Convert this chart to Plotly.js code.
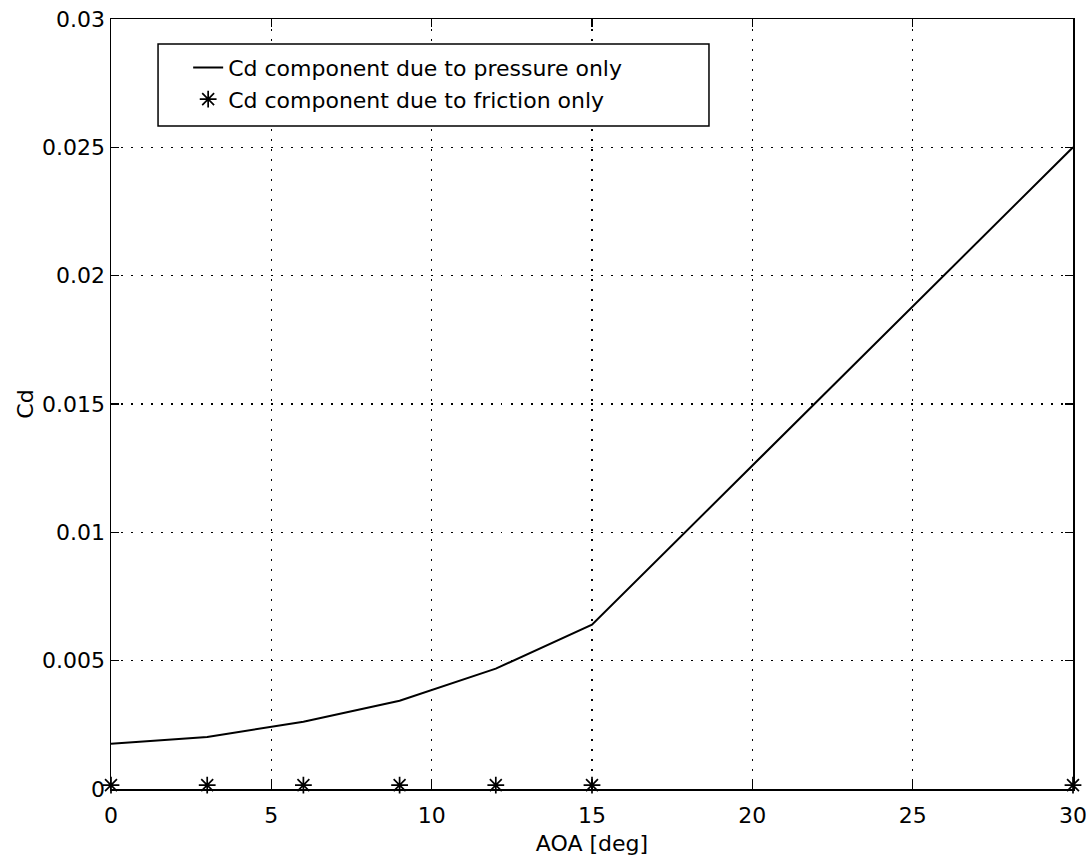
<!DOCTYPE html>
<html>
<head>
<meta charset="utf-8">
<script src="https://cdn.plot.ly/plotly-3.0.1.min.js"></script>
<style>html,body{margin:0;padding:0;background:#fff;}#chart{width:1090px;height:858px;}</style>
</head>
<body>
<div id="chart"></div>
<script>
// Data
const aoa = [0, 3, 6, 9, 12, 15, 30];
const cdPressure = [0.00176, 0.00203, 0.00262, 0.00344, 0.00469, 0.0064, 0.025];
const cdFriction = [0.00015, 0.00015, 0.00015, 0.00015, 0.00015, 0.00015, 0.00015];
const xTicks = [0, 5, 10, 15, 20, 25, 30];
const yTickVals = [0, 0.005, 0.01, 0.015, 0.02, 0.025, 0.03];
const yTickText = ['0', '0.005', '0.01', '0.015', '0.02', '0.025', '0.03'];
const seriesNames = ['Cd component due to pressure only', 'Cd component due to friction only'];

const FONT = 'DejaVu Sans, Liberation Sans, Arial, sans-serif';

const traces = [
  {
    x: aoa, y: cdPressure, type: 'scatter', mode: 'lines',
    name: seriesNames[0],
    line: {color: '#000', width: 2}
  },
  {
    x: aoa, y: cdFriction, type: 'scatter', mode: 'markers',
    name: seriesNames[1],
    marker: {symbol: 'asterisk-open', size: 14, color: '#000', line: {color: '#000', width: 1.7}},
    cliponaxis: false
  }
];

const axisCommon = {
  showline: true, linecolor: '#000', linewidth: 1.5, mirror: 'ticks',
  ticks: 'inside', ticklen: 8, tickwidth: 1.2, tickcolor: '#000',
  showgrid: true, gridcolor: '#000', gridwidth: 1.3, griddash: '1.5px,8.5px',
  zeroline: false,
  tickfont: {family: FONT, size: 22, color: '#000'}
};

const layout = {
  width: 1090, height: 858,
  margin: {l: 111, r: 17, t: 19, b: 69},
  paper_bgcolor: '#fff', plot_bgcolor: '#fff',
  font: {family: FONT, size: 22, color: '#000'},
  xaxis: Object.assign({}, axisCommon, {
    range: [0, 30], tickvals: xTicks, ticktext: xTicks.map(String),
    ticklabelstandoff: 6,
    title: {text: 'AOA [deg]', font: {family: FONT, size: 22, color: '#000'}, standoff: 8}
  }),
  yaxis: Object.assign({}, axisCommon, {
    range: [0, 0.03], tickvals: yTickVals, ticktext: yTickText,
    title: {text: 'Cd', font: {family: FONT, size: 22, color: '#000'}, standoff: 2}
  }),
  showlegend: true,
  legend: {
    x: 0.0802, y: 0.964, xanchor: 'left', yanchor: 'top',
    bgcolor: 'rgba(0,0,0,0)', borderwidth: 0,
    font: {family: FONT, size: 22, color: '#000'},
    tracegroupgap: 0
  },
  shapes: [
    {type: 'rect', xref: 'paper', yref: 'paper', x0: 0.0489, x1: 0.6216, y0: 0.861, y1: 0.9675,
     line: {color: '#000', width: 1.5}, fillcolor: '#fff', layer: 'above'}
  ]
};

Plotly.newPlot('chart', traces, layout, {displayModeBar: false, staticPlot: true});
</script>
</body>
</html>
